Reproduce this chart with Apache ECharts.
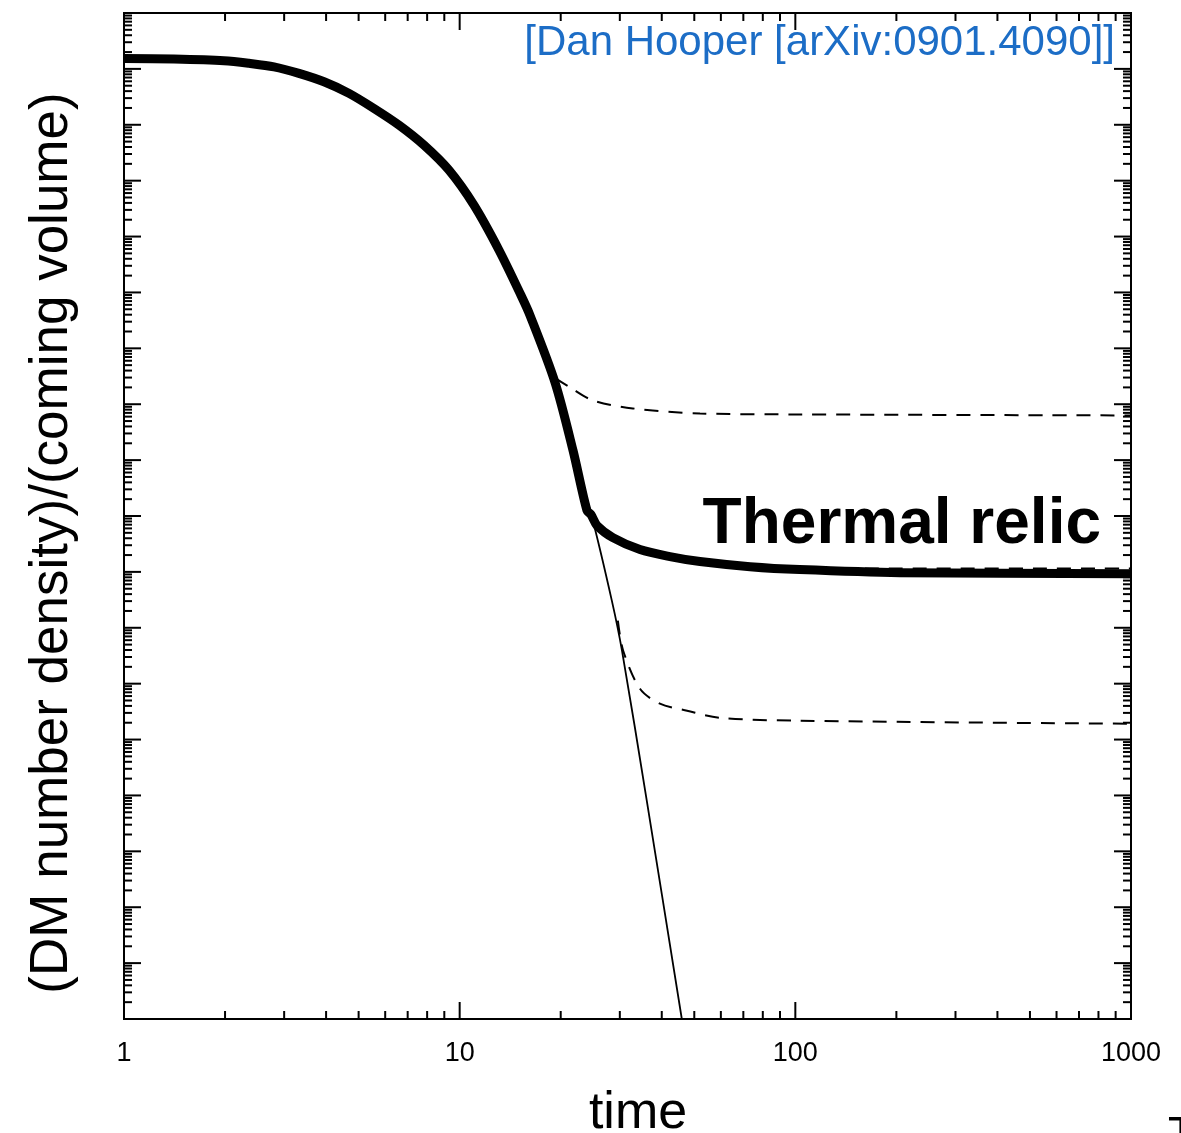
<!DOCTYPE html>
<html>
<head>
<meta charset="utf-8">
<script src="https://cdn.jsdelivr.net/npm/echarts@6/dist/echarts.min.js"></script>
<style>
  html, body { margin: 0; padding: 0; background: #fff; }
  #chart { width: 1181px; height: 1133px; }
</style>
</head>
<body>
<div id="chart"></div>
<script>
// axis ranges (log)
var xMin = 1, xMax = 1000;
var yMin = 1e-18, yMax = 1;

// thick curve: thermal relic
var relicCurve = [
  [1, 0.154], [1.409, 0.150], [1.986, 0.140], [2.357, 0.126], [2.798, 0.109],
  [3.321, 0.0832], [3.944, 0.0588], [4.681, 0.0365], [5.557, 0.0196], [6.596, 9.86e-3],
  [7.83, 4.32e-3], [9.294, 1.54e-3], [11.03, 3.64e-4], [13.1, 5.69e-5], [15.23, 8.89e-6],
  [16.2, 3.9e-6], [19.23, 2.46e-7], [21.76, 1.49e-8], [23.95, 1.25e-9], [24.61, 1.06e-9],
  [25.66, 6.75e-10], [28.6, 4.11e-10], [34.45, 2.51e-10], [42.3, 1.88e-10],
  [52.0, 1.53e-10], [73.3, 1.24e-10], [103, 1.10e-10], [205, 9.7e-11], [1000, 9.3e-11]
];
// thin line: equilibrium
var equilibrium = [
  [19.23, 2.46e-7], [21.76, 1.49e-8], [24.8, 9.4e-10], [28.4, 3.06e-11],
  [30.45, 3.9e-12], [36.1, 8.0e-15], [45.9, 1e-18]
];
// dashed: smaller cross section (freezes out earlier)
var dashedHigh = [
  [19.3, 2.9e-7], [21.32, 2.0e-7], [24.96, 1.17e-7], [32.8, 8.41e-8],
  [52.0, 6.84e-8], [103, 6.57e-8], [1000, 6.3e-8]
];
// dashed: close to the thermal relic
var dashedMid = [
  [24.61, 1.06e-9], [25.66, 6.8e-10], [28.6, 4.2e-10], [34.45, 2.6e-10],
  [42.3, 1.95e-10], [52.0, 1.6e-10], [73.3, 1.3e-10], [103, 1.17e-10],
  [205, 1.15e-10], [1000, 1.15e-10]
];
// dashed: larger cross section (freezes out later)
var dashedLow = [
  [29.6, 1.34e-11], [30.7, 3.89e-12], [34.45, 8.1e-13], [39.5, 4.38e-13],
  [47.6, 3.28e-13], [59.6, 2.45e-13], [103, 2.17e-13], [1000, 1.92e-13]
];

var xLabels = [1, 10, 100, 1000];
var mantissas = [2, 3, 4, 5, 6, 7, 8, 9];

// ticks: [x, y, length, kind] kind 0 = x axis, 1 = y axis
var tickData = [];
for (var e = 0; e <= 3; e++) {
  tickData.push([Math.pow(10, e), yMin, 17, 0]);
  if (e < 3) {
    mantissas.forEach(function (m) { tickData.push([m * Math.pow(10, e), yMin, 8, 0]); });
  }
}
for (var k = -18; k <= 0; k++) {
  tickData.push([xMin, Math.pow(10, k), 17, 1]);
  if (k < 0) {
    mantissas.forEach(function (m) { tickData.push([xMin, m * Math.pow(10, k), 8, 1]); });
  }
}

var myChart = echarts.init(document.getElementById('chart'));

myChart.setOption({
  animation: false,
  backgroundColor: '#fff',
  grid: {
    left: 124, top: 13, right: 50, bottom: 114,
    containLabel: false, outerBoundsMode: 'none',
    show: true, borderColor: '#000', borderWidth: 2, backgroundColor: 'transparent'
  },
  xAxis: {
    type: 'log', logBase: 10, min: xMin, max: xMax,
    axisLine: { show: false },
    axisTick: { show: false },
    splitLine: { show: false },
    axisLabel: {
      margin: 21, fontSize: 27, color: '#000', fontFamily: 'Liberation Sans',
      formatter: function (v) { return xLabels.indexOf(Math.round(v)) >= 0 ? String(Math.round(v)) : ''; }
    }
  },
  yAxis: {
    type: 'log', logBase: 10, min: yMin, max: yMax,
    axisLine: { show: false },
    axisTick: { show: false },
    splitLine: { show: false },
    axisLabel: { show: false }
  },
  graphic: [
    {
      type: 'text', x: 52, y: 543, rotation: Math.PI / 2, z: 10,
      style: {
        text: '(DM number density)/(coming volume)', fill: '#000', fontSize: 53,
        fontFamily: 'Liberation Sans', align: 'center', verticalAlign: 'middle'
      }
    },
    {
      type: 'text', x: 638, y: 1114, z: 10,
      style: { text: 'time', fill: '#000', fontSize: 52, fontFamily: 'Liberation Sans', align: 'center', verticalAlign: 'middle' }
    },
    {
      type: 'text', right: 66, top: 22, z: 10,
      style: { text: '[Dan Hooper [arXiv:0901.4090]]', fill: '#1c6dc6', fontSize: 42, fontFamily: 'Liberation Sans' }
    },
    {
      type: 'text', right: 80, top: 493, z: 10,
      style: { text: 'Thermal relic', fill: '#000', fontSize: 64, fontWeight: 'bold', fontFamily: 'Liberation Sans' }
    },
    {
      type: 'text', left: 1168, top: 1114, z: 10,
      style: { text: 'T', fill: '#000', fontSize: 44, fontFamily: 'Liberation Sans' }
    }
  ],
  series: [
    {
      name: 'ticks', type: 'custom', data: tickData, clip: false, silent: true,
      encode: { x: 0, y: 1 },
      renderItem: function (params, api) {
        var len = api.value(2), kind = api.value(3);
        var style = { stroke: '#000', lineWidth: 2 };
        if (kind === 0) {
          var b = api.coord([api.value(0), yMin]);
          var t = api.coord([api.value(0), yMax]);
          return { type: 'group', children: [
            { type: 'line', shape: { x1: b[0], y1: b[1], x2: b[0], y2: b[1] - len }, style: style },
            { type: 'line', shape: { x1: t[0], y1: t[1], x2: t[0], y2: t[1] + len }, style: style }
          ] };
        }
        var l = api.coord([xMin, api.value(1)]);
        var r = api.coord([xMax, api.value(1)]);
        return { type: 'group', children: [
          { type: 'line', shape: { x1: l[0], y1: l[1], x2: l[0] + len, y2: l[1] }, style: style },
          { type: 'line', shape: { x1: r[0], y1: r[1], x2: r[0] - len, y2: r[1] }, style: style }
        ] };
      }
    },
    {
      name: 'equilibrium', type: 'line', data: equilibrium, showSymbol: false, smooth: 0.3,
      lineStyle: { color: '#000', width: 1.8 }, z: 3
    },
    {
      name: 'dashedHigh', type: 'line', data: dashedHigh, showSymbol: false, smooth: 0.3,
      lineStyle: { color: '#000', width: 2, type: [14, 10] }, z: 3
    },
    {
      name: 'dashedMid', type: 'line', data: dashedMid, showSymbol: false, smooth: 0.3,
      lineStyle: { color: '#000', width: 2, type: [14, 10] }, z: 3
    },
    {
      name: 'dashedLow', type: 'line', data: dashedLow, showSymbol: false, smooth: 0.3,
      lineStyle: { color: '#000', width: 2, type: [14, 10] }, z: 3
    },
    {
      name: 'Thermal relic', type: 'line', data: relicCurve, showSymbol: false, smooth: 0.3,
      lineStyle: { color: '#000', width: 9, join: 'round' }, z: 4
    }
  ]
});
</script>
</body>
</html>
